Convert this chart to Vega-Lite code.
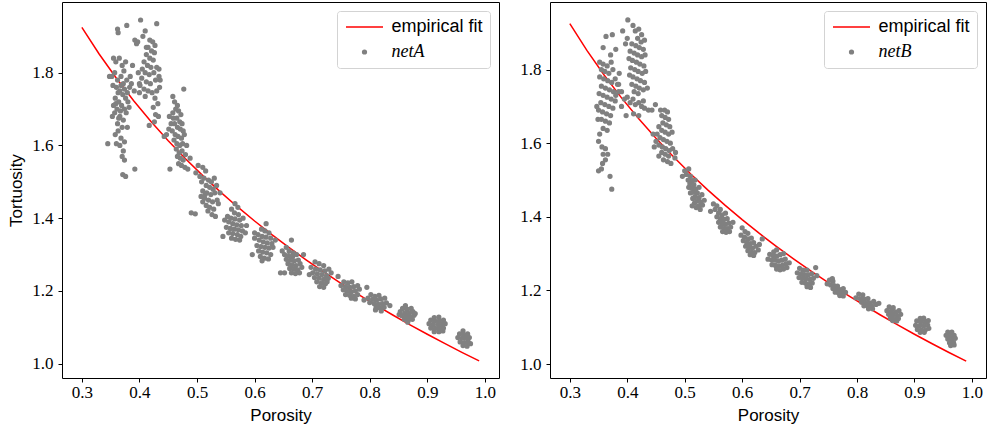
{
  "$schema": "https://vega.github.io/schema/vega-lite/v6.json",
  "padding": {"left": 7, "top": 1, "right": 0, "bottom": 0},
  "background": "white",
  "spacing": 19,
  "config": {
    "font": "Liberation Serif",
    "view": {"stroke": "black", "strokeWidth": 1},
    "axis": {"grid": false, "domain": false, "tickColor": "black", "tickSize": 4, "tickWidth": 1,
      "labelFont": "Liberation Serif", "labelFontSize": 17, "labelColor": "black", "labelPadding": 5,
      "titleFont": "Liberation Sans", "titleFontSize": 17, "titleFontWeight": "normal", "titleColor": "black"},
    "axisX": {"titlePadding": 7, "labelPadding": 2},
    "axisY": {"titlePadding": 6},
    "legend": {"orient": "top-right", "offset": 9, "strokeColor": "#d3d3d3", "fillColor": "rgba(255,255,255,0.8)",
      "cornerRadius": 3, "padding": 7, "rowPadding": 7, "labelFontSize": 18, "labelColor": "black", "titlePadding": 0}
  },
  "datasets": {
    "fit": [
      {"p":0.30,"t":1.9247},{"p":0.33,"t":1.8515},{"p":0.36,"t":1.7847},{"p":0.39,"t":1.7231},{"p":0.42,"t":1.6662},
      {"p":0.45,"t":1.6133},{"p":0.48,"t":1.5637},{"p":0.51,"t":1.5171},{"p":0.54,"t":1.4732},{"p":0.57,"t":1.4317},
      {"p":0.60,"t":1.3923},{"p":0.63,"t":1.3548},{"p":0.66,"t":1.3191},{"p":0.69,"t":1.2850},{"p":0.72,"t":1.2523},
      {"p":0.75,"t":1.2209},{"p":0.78,"t":1.1908},{"p":0.81,"t":1.1618},{"p":0.84,"t":1.1339},{"p":0.87,"t":1.1070},
      {"p":0.90,"t":1.0809},{"p":0.93,"t":1.0557},{"p":0.96,"t":1.0313},{"p":0.99,"t":1.0077}
    ],
    "a": [
      {"p":0.357,"t":1.80},{"p":0.362,"t":1.78},{"p":0.368,"t":1.79},{"p":0.372,"t":1.77},{"p":0.378,"t":1.78},{"p":0.383,"t":1.76},
      {"p":0.36,"t":1.76},{"p":0.366,"t":1.75},{"p":0.371,"t":1.74},{"p":0.376,"t":1.73},{"p":0.358,"t":1.73},{"p":0.364,"t":1.72},
      {"p":0.369,"t":1.71},{"p":0.374,"t":1.70},{"p":0.361,"t":1.70},{"p":0.357,"t":1.69},{"p":0.366,"t":1.68},{"p":0.372,"t":1.67},
      {"p":0.362,"t":1.66},{"p":0.377,"t":1.69},{"p":0.355,"t":1.71},{"p":0.38,"t":1.72},{"p":0.384,"t":1.79},{"p":0.352,"t":1.79},
      {"p":0.348,"t":1.79},{"p":0.386,"t":1.77},{"p":0.359,"t":1.83},{"p":0.365,"t":1.84},{"p":0.37,"t":1.82},{"p":0.376,"t":1.83},
      {"p":0.362,"t":1.92},{"p":0.363,"t":1.91},{"p":0.378,"t":1.93},{"p":0.392,"t":1.89},{"p":0.355,"t":1.84},{"p":0.388,"t":1.82},
      {"p":0.391,"t":1.75},{"p":0.363,"t":1.64},{"p":0.358,"t":1.63},{"p":0.368,"t":1.62},{"p":0.374,"t":1.61},{"p":0.36,"t":1.605},
      {"p":0.345,"t":1.605},{"p":0.372,"t":1.585},{"p":0.37,"t":1.57},{"p":0.374,"t":1.56},{"p":0.371,"t":1.52},{"p":0.376,"t":1.515},
      {"p":0.392,"t":1.535},{"p":0.366,"t":1.60},{"p":0.379,"t":1.65},
      {"p":0.354,"t":1.765},{"p":0.363,"t":1.745},{"p":0.368,"t":1.765},{"p":0.374,"t":1.755},{"p":0.379,"t":1.745},{"p":0.359,"t":1.715},
      {"p":0.367,"t":1.695},{"p":0.364,"t":1.675},{"p":0.37,"t":1.65},{"p":0.353,"t":1.68},{"p":0.382,"t":1.705},{"p":0.373,"t":1.805},
      {"p":0.402,"t":1.945},{"p":0.43,"t":1.935},{"p":0.41,"t":1.915},{"p":0.397,"t":1.885},{"p":0.395,"t":1.88},{"p":0.406,"t":1.90},
      {"p":0.418,"t":1.89},{"p":0.423,"t":1.885},{"p":0.427,"t":1.875},{"p":0.415,"t":1.87},{"p":0.421,"t":1.86},{"p":0.426,"t":1.855},
      {"p":0.412,"t":1.85},{"p":0.418,"t":1.84},{"p":0.424,"t":1.835},{"p":0.408,"t":1.83},{"p":0.414,"t":1.82},{"p":0.42,"t":1.815},
      {"p":0.43,"t":1.815},{"p":0.405,"t":1.81},{"p":0.41,"t":1.80},{"p":0.417,"t":1.795},{"p":0.425,"t":1.80},{"p":0.434,"t":1.81},
      {"p":0.404,"t":1.785},{"p":0.412,"t":1.775},{"p":0.419,"t":1.77},{"p":0.428,"t":1.78},{"p":0.436,"t":1.78},{"p":0.401,"t":1.765},
      {"p":0.408,"t":1.755},{"p":0.415,"t":1.75},{"p":0.422,"t":1.745},{"p":0.43,"t":1.75},{"p":0.435,"t":1.76},{"p":0.40,"t":1.745},
      {"p":0.41,"t":1.735},{"p":0.427,"t":1.73},{"p":0.432,"t":1.715},{"p":0.424,"t":1.705},{"p":0.428,"t":1.685},{"p":0.426,"t":1.665},
      {"p":0.417,"t":1.655},{"p":0.433,"t":1.68},{"p":0.412,"t":1.87},{"p":0.434,"t":1.79},{"p":0.398,"t":1.80},{"p":0.40,"t":1.77},
      {"p":0.443,"t":1.625},{"p":0.447,"t":1.63},{"p":0.451,"t":1.645},{"p":0.455,"t":1.66},{"p":0.459,"t":1.675},{"p":0.452,"t":1.68},
      {"p":0.458,"t":1.69},{"p":0.463,"t":1.70},{"p":0.468,"t":1.695},{"p":0.472,"t":1.685},{"p":0.465,"t":1.675},{"p":0.47,"t":1.665},
      {"p":0.474,"t":1.66},{"p":0.461,"t":1.66},{"p":0.466,"t":1.65},{"p":0.471,"t":1.645},{"p":0.476,"t":1.64},{"p":0.457,"t":1.64},
      {"p":0.462,"t":1.63},{"p":0.467,"t":1.625},{"p":0.473,"t":1.62},{"p":0.478,"t":1.63},{"p":0.46,"t":1.615},{"p":0.465,"t":1.605},
      {"p":0.47,"t":1.60},{"p":0.475,"t":1.605},{"p":0.464,"t":1.59},{"p":0.469,"t":1.58},{"p":0.474,"t":1.585},{"p":0.466,"t":1.57},
      {"p":0.471,"t":1.565},{"p":0.476,"t":1.56},{"p":0.48,"t":1.575},{"p":0.468,"t":1.55},{"p":0.473,"t":1.545},{"p":0.479,"t":1.54},
      {"p":0.484,"t":1.535},{"p":0.488,"t":1.565},{"p":0.477,"t":1.755},{"p":0.458,"t":1.735},{"p":0.466,"t":1.71},{"p":0.453,"t":1.535},
      {"p":0.482,"t":1.60},{"p":0.461,"t":1.72},
      {"p":0.502,"t":1.545},{"p":0.51,"t":1.54},{"p":0.515,"t":1.53},{"p":0.498,"t":1.525},{"p":0.505,"t":1.515},{"p":0.512,"t":1.51},
      {"p":0.52,"t":1.505},{"p":0.525,"t":1.50},{"p":0.53,"t":1.51},{"p":0.508,"t":1.50},{"p":0.516,"t":1.49},{"p":0.522,"t":1.485},
      {"p":0.528,"t":1.48},{"p":0.534,"t":1.49},{"p":0.51,"t":1.475},{"p":0.517,"t":1.47},{"p":0.524,"t":1.465},{"p":0.531,"t":1.47},
      {"p":0.507,"t":1.46},{"p":0.513,"t":1.455},{"p":0.52,"t":1.45},{"p":0.527,"t":1.445},{"p":0.535,"t":1.45},{"p":0.51,"t":1.445},
      {"p":0.516,"t":1.435},{"p":0.522,"t":1.43},{"p":0.529,"t":1.425},{"p":0.519,"t":1.42},{"p":0.526,"t":1.41},{"p":0.532,"t":1.405},
      {"p":0.49,"t":1.415},{"p":0.497,"t":1.412},{"p":0.537,"t":1.44},{"p":0.54,"t":1.47},{"p":0.514,"t":1.465},
      {"p":0.566,"t":1.44},{"p":0.571,"t":1.43},{"p":0.56,"t":1.425},{"p":0.565,"t":1.415},{"p":0.572,"t":1.41},{"p":0.553,"t":1.405},
      {"p":0.559,"t":1.40},{"p":0.566,"t":1.398},{"p":0.574,"t":1.395},{"p":0.58,"t":1.40},{"p":0.548,"t":1.395},{"p":0.555,"t":1.39},
      {"p":0.562,"t":1.385},{"p":0.569,"t":1.382},{"p":0.577,"t":1.38},{"p":0.551,"t":1.375},{"p":0.558,"t":1.372},{"p":0.565,"t":1.37},
      {"p":0.572,"t":1.368},{"p":0.579,"t":1.365},{"p":0.555,"t":1.36},{"p":0.562,"t":1.358},{"p":0.57,"t":1.355},{"p":0.576,"t":1.35},
      {"p":0.56,"t":1.345},{"p":0.567,"t":1.342},{"p":0.574,"t":1.34},{"p":0.584,"t":1.36},{"p":0.545,"t":1.35},{"p":0.586,"t":1.38},
      {"p":0.62,"t":1.385},{"p":0.612,"t":1.37},{"p":0.618,"t":1.365},{"p":0.625,"t":1.36},{"p":0.606,"t":1.355},{"p":0.613,"t":1.35},
      {"p":0.62,"t":1.348},{"p":0.628,"t":1.345},{"p":0.60,"t":1.345},{"p":0.608,"t":1.34},{"p":0.615,"t":1.335},{"p":0.622,"t":1.332},
      {"p":0.63,"t":1.33},{"p":0.604,"t":1.325},{"p":0.611,"t":1.322},{"p":0.618,"t":1.32},{"p":0.625,"t":1.318},{"p":0.632,"t":1.32},
      {"p":0.607,"t":1.31},{"p":0.614,"t":1.307},{"p":0.621,"t":1.305},{"p":0.628,"t":1.30},{"p":0.61,"t":1.295},{"p":0.617,"t":1.29},
      {"p":0.624,"t":1.288},{"p":0.596,"t":1.30},{"p":0.636,"t":1.34},{"p":0.60,"t":1.36},{"p":0.613,"t":1.283},
      {"p":0.655,"t":1.32},{"p":0.648,"t":1.31},{"p":0.66,"t":1.31},{"p":0.667,"t":1.305},{"p":0.652,"t":1.30},{"p":0.659,"t":1.297},
      {"p":0.666,"t":1.295},{"p":0.673,"t":1.30},{"p":0.655,"t":1.287},{"p":0.662,"t":1.285},{"p":0.669,"t":1.283},{"p":0.676,"t":1.285},
      {"p":0.658,"t":1.275},{"p":0.665,"t":1.272},{"p":0.672,"t":1.27},{"p":0.679,"t":1.275},{"p":0.661,"t":1.262},{"p":0.668,"t":1.26},
      {"p":0.675,"t":1.258},{"p":0.682,"t":1.265},{"p":0.664,"t":1.25},{"p":0.671,"t":1.248},{"p":0.678,"t":1.25},{"p":0.645,"t":1.25},
      {"p":0.652,"t":1.25},{"p":0.664,"t":1.34},{"p":0.685,"t":1.30},
      {"p":0.705,"t":1.28},{"p":0.712,"t":1.275},{"p":0.72,"t":1.27},{"p":0.698,"t":1.265},{"p":0.706,"t":1.26},{"p":0.714,"t":1.258},
      {"p":0.722,"t":1.255},{"p":0.729,"t":1.26},{"p":0.701,"t":1.25},{"p":0.709,"t":1.247},{"p":0.717,"t":1.245},{"p":0.725,"t":1.242},
      {"p":0.704,"t":1.237},{"p":0.712,"t":1.235},{"p":0.72,"t":1.232},{"p":0.728,"t":1.235},{"p":0.708,"t":1.225},{"p":0.716,"t":1.222},
      {"p":0.723,"t":1.22},{"p":0.713,"t":1.212},{"p":0.72,"t":1.21},{"p":0.733,"t":1.25},{"p":0.695,"t":1.245},{"p":0.726,"t":1.225},
      {"p":0.745,"t":1.24},{"p":0.755,"t":1.225},{"p":0.762,"t":1.222},{"p":0.769,"t":1.225},{"p":0.75,"t":1.215},{"p":0.758,"t":1.212},
      {"p":0.765,"t":1.21},{"p":0.772,"t":1.212},{"p":0.779,"t":1.215},{"p":0.754,"t":1.203},{"p":0.761,"t":1.20},{"p":0.768,"t":1.198},
      {"p":0.775,"t":1.20},{"p":0.782,"t":1.205},{"p":0.758,"t":1.19},{"p":0.765,"t":1.188},{"p":0.772,"t":1.185},{"p":0.779,"t":1.19},
      {"p":0.768,"t":1.18},{"p":0.775,"t":1.178},
      {"p":0.795,"t":1.21},{"p":0.802,"t":1.19},{"p":0.809,"t":1.185},{"p":0.816,"t":1.188},{"p":0.797,"t":1.18},{"p":0.805,"t":1.177},
      {"p":0.812,"t":1.175},{"p":0.819,"t":1.178},{"p":0.826,"t":1.18},{"p":0.80,"t":1.168},{"p":0.808,"t":1.165},{"p":0.815,"t":1.163},
      {"p":0.822,"t":1.165},{"p":0.829,"t":1.167},{"p":0.811,"t":1.155},{"p":0.818,"t":1.153},{"p":0.825,"t":1.155},{"p":0.835,"t":1.16},
      {"p":0.81,"t":1.148},{"p":0.82,"t":1.145},{"p":0.79,"t":1.175},
      {"p":0.862,"t":1.16},{"p":0.857,"t":1.152},{"p":0.865,"t":1.15},{"p":0.872,"t":1.152},{"p":0.853,"t":1.143},{"p":0.861,"t":1.14},
      {"p":0.868,"t":1.14},{"p":0.875,"t":1.143},{"p":0.856,"t":1.132},{"p":0.863,"t":1.13},{"p":0.87,"t":1.13},{"p":0.877,"t":1.133},
      {"p":0.86,"t":1.122},{"p":0.867,"t":1.12},{"p":0.874,"t":1.122},{"p":0.866,"t":1.114},{"p":0.851,"t":1.135},{"p":0.879,"t":1.138},
      {"p":0.912,"t":1.127},{"p":0.92,"t":1.128},{"p":0.906,"t":1.12},{"p":0.913,"t":1.118},{"p":0.921,"t":1.118},{"p":0.928,"t":1.12},
      {"p":0.903,"t":1.11},{"p":0.91,"t":1.108},{"p":0.918,"t":1.108},{"p":0.925,"t":1.108},{"p":0.931,"t":1.11},{"p":0.906,"t":1.098},
      {"p":0.913,"t":1.097},{"p":0.921,"t":1.097},{"p":0.928,"t":1.098},{"p":0.912,"t":1.088},{"p":0.92,"t":1.088},{"p":0.927,"t":1.09},
      {"p":0.962,"t":1.09},{"p":0.956,"t":1.082},{"p":0.963,"t":1.08},{"p":0.97,"t":1.082},{"p":0.953,"t":1.072},{"p":0.96,"t":1.07},
      {"p":0.967,"t":1.07},{"p":0.973,"t":1.072},{"p":0.957,"t":1.06},{"p":0.964,"t":1.058},{"p":0.971,"t":1.06},{"p":0.962,"t":1.05},
      {"p":0.969,"t":1.048},{"p":0.975,"t":1.055}
    ],
    "b": [
      {"p":0.352,"t":1.82},{"p":0.358,"t":1.815},{"p":0.365,"t":1.81},{"p":0.372,"t":1.82},{"p":0.355,"t":1.80},{"p":0.361,"t":1.795},
      {"p":0.368,"t":1.79},{"p":0.375,"t":1.80},{"p":0.352,"t":1.78},{"p":0.359,"t":1.775},{"p":0.366,"t":1.77},{"p":0.373,"t":1.765},
      {"p":0.379,"t":1.775},{"p":0.355,"t":1.755},{"p":0.362,"t":1.75},{"p":0.369,"t":1.745},{"p":0.376,"t":1.74},{"p":0.351,"t":1.735},
      {"p":0.358,"t":1.73},{"p":0.365,"t":1.725},{"p":0.372,"t":1.72},{"p":0.379,"t":1.715},{"p":0.354,"t":1.71},{"p":0.361,"t":1.705},
      {"p":0.368,"t":1.70},{"p":0.375,"t":1.695},{"p":0.35,"t":1.69},{"p":0.357,"t":1.685},{"p":0.364,"t":1.68},{"p":0.371,"t":1.675},
      {"p":0.355,"t":1.665},{"p":0.362,"t":1.66},{"p":0.369,"t":1.655},{"p":0.358,"t":1.64},{"p":0.365,"t":1.635},{"p":0.352,"t":1.625},
      {"p":0.35,"t":1.605},{"p":0.356,"t":1.59},{"p":0.362,"t":1.585},{"p":0.366,"t":1.57},{"p":0.358,"t":1.57},{"p":0.362,"t":1.555},
      {"p":0.357,"t":1.545},{"p":0.355,"t":1.53},{"p":0.35,"t":1.525},{"p":0.37,"t":1.51},{"p":0.373,"t":1.475},{"p":0.358,"t":1.86},
      {"p":0.363,"t":1.89},{"p":0.374,"t":1.895},{"p":0.38,"t":1.855},{"p":0.371,"t":1.84},{"p":0.386,"t":1.79},{"p":0.383,"t":1.76},
      {"p":0.385,"t":1.74},{"p":0.347,"t":1.70},{"p":0.349,"t":1.665},
      {"p":0.401,"t":1.935},{"p":0.41,"t":1.92},{"p":0.414,"t":1.905},{"p":0.392,"t":1.905},{"p":0.42,"t":1.91},{"p":0.425,"t":1.895},
      {"p":0.418,"t":1.885},{"p":0.424,"t":1.875},{"p":0.43,"t":1.88},{"p":0.408,"t":1.87},{"p":0.415,"t":1.865},{"p":0.421,"t":1.86},
      {"p":0.428,"t":1.855},{"p":0.405,"t":1.85},{"p":0.412,"t":1.845},{"p":0.418,"t":1.84},{"p":0.425,"t":1.835},{"p":0.431,"t":1.84},
      {"p":0.403,"t":1.83},{"p":0.409,"t":1.825},{"p":0.416,"t":1.82},{"p":0.422,"t":1.815},{"p":0.429,"t":1.81},{"p":0.406,"t":1.805},
      {"p":0.413,"t":1.80},{"p":0.419,"t":1.795},{"p":0.426,"t":1.79},{"p":0.432,"t":1.795},{"p":0.404,"t":1.785},{"p":0.41,"t":1.78},
      {"p":0.417,"t":1.775},{"p":0.423,"t":1.77},{"p":0.43,"t":1.765},{"p":0.408,"t":1.76},{"p":0.415,"t":1.755},{"p":0.421,"t":1.75},
      {"p":0.428,"t":1.745},{"p":0.435,"t":1.75},{"p":0.412,"t":1.74},{"p":0.419,"t":1.735},{"p":0.397,"t":1.87},{"p":0.40,"t":1.885},
      {"p":0.39,"t":1.74},{"p":0.395,"t":1.72},{"p":0.40,"t":1.725},{"p":0.405,"t":1.71},{"p":0.41,"t":1.72},{"p":0.414,"t":1.705},
      {"p":0.42,"t":1.71},{"p":0.425,"t":1.70},{"p":0.43,"t":1.695},{"p":0.437,"t":1.69},{"p":0.443,"t":1.69},{"p":0.449,"t":1.705},
      {"p":0.39,"t":1.70},{"p":0.398,"t":1.675},{"p":0.411,"t":1.68},{"p":0.42,"t":1.675},{"p":0.428,"t":1.715},{"p":0.385,"t":1.76},
      {"p":0.38,"t":1.73},
      {"p":0.458,"t":1.69},{"p":0.465,"t":1.69},{"p":0.47,"t":1.685},{"p":0.46,"t":1.675},{"p":0.466,"t":1.67},{"p":0.472,"t":1.665},
      {"p":0.462,"t":1.655},{"p":0.468,"t":1.65},{"p":0.474,"t":1.645},{"p":0.455,"t":1.645},{"p":0.46,"t":1.635},{"p":0.466,"t":1.63},
      {"p":0.472,"t":1.625},{"p":0.478,"t":1.63},{"p":0.452,"t":1.625},{"p":0.457,"t":1.615},{"p":0.463,"t":1.61},{"p":0.469,"t":1.605},
      {"p":0.475,"t":1.60},{"p":0.45,"t":1.605},{"p":0.455,"t":1.595},{"p":0.461,"t":1.59},{"p":0.467,"t":1.585},{"p":0.473,"t":1.58},
      {"p":0.479,"t":1.585},{"p":0.46,"t":1.575},{"p":0.466,"t":1.57},{"p":0.472,"t":1.565},{"p":0.463,"t":1.555},{"p":0.47,"t":1.55},
      {"p":0.476,"t":1.545},{"p":0.483,"t":1.56},{"p":0.447,"t":1.59},{"p":0.484,"t":1.575},{"p":0.445,"t":1.625},{"p":0.455,"t":1.565},
      {"p":0.50,"t":1.525},{"p":0.507,"t":1.53},{"p":0.503,"t":1.515},{"p":0.51,"t":1.51},{"p":0.506,"t":1.50},{"p":0.513,"t":1.498},
      {"p":0.509,"t":1.49},{"p":0.516,"t":1.487},{"p":0.512,"t":1.478},{"p":0.519,"t":1.475},{"p":0.507,"t":1.48},{"p":0.515,"t":1.467},
      {"p":0.522,"t":1.465},{"p":0.51,"t":1.465},{"p":0.518,"t":1.455},{"p":0.525,"t":1.452},{"p":0.514,"t":1.45},{"p":0.521,"t":1.443},
      {"p":0.528,"t":1.44},{"p":0.517,"t":1.437},{"p":0.524,"t":1.43},{"p":0.531,"t":1.432},{"p":0.52,"t":1.425},{"p":0.527,"t":1.42},
      {"p":0.534,"t":1.445},{"p":0.513,"t":1.43},{"p":0.53,"t":1.46},{"p":0.496,"t":1.51},{"p":0.518,"t":1.50},{"p":0.525,"t":1.48},
      {"p":0.55,"t":1.435},{"p":0.556,"t":1.43},{"p":0.562,"t":1.42},{"p":0.553,"t":1.42},{"p":0.559,"t":1.41},{"p":0.565,"t":1.405},
      {"p":0.571,"t":1.41},{"p":0.556,"t":1.40},{"p":0.562,"t":1.395},{"p":0.568,"t":1.393},{"p":0.574,"t":1.395},{"p":0.559,"t":1.385},
      {"p":0.565,"t":1.382},{"p":0.571,"t":1.38},{"p":0.577,"t":1.383},{"p":0.562,"t":1.372},{"p":0.568,"t":1.37},{"p":0.574,"t":1.368},
      {"p":0.58,"t":1.372},{"p":0.566,"t":1.36},{"p":0.572,"t":1.358},{"p":0.578,"t":1.36},{"p":0.545,"t":1.415},{"p":0.584,"t":1.385},
      {"p":0.60,"t":1.37},{"p":0.605,"t":1.36},{"p":0.61,"t":1.355},{"p":0.598,"t":1.35},{"p":0.604,"t":1.345},{"p":0.61,"t":1.34},
      {"p":0.616,"t":1.342},{"p":0.602,"t":1.335},{"p":0.608,"t":1.33},{"p":0.614,"t":1.327},{"p":0.62,"t":1.33},{"p":0.606,"t":1.32},
      {"p":0.612,"t":1.317},{"p":0.618,"t":1.315},{"p":0.624,"t":1.32},{"p":0.61,"t":1.308},{"p":0.616,"t":1.305},{"p":0.622,"t":1.303},
      {"p":0.614,"t":1.297},{"p":0.62,"t":1.295},{"p":0.628,"t":1.31},{"p":0.635,"t":1.34},{"p":0.63,"t":1.325},
      {"p":0.655,"t":1.305},{"p":0.66,"t":1.31},{"p":0.648,"t":1.298},{"p":0.654,"t":1.295},{"p":0.66,"t":1.293},{"p":0.666,"t":1.297},
      {"p":0.672,"t":1.30},{"p":0.645,"t":1.285},{"p":0.651,"t":1.283},{"p":0.657,"t":1.282},{"p":0.663,"t":1.28},{"p":0.669,"t":1.282},
      {"p":0.675,"t":1.285},{"p":0.652,"t":1.27},{"p":0.658,"t":1.268},{"p":0.664,"t":1.267},{"p":0.67,"t":1.268},{"p":0.676,"t":1.272},
      {"p":0.682,"t":1.275},{"p":0.66,"t":1.258},{"p":0.666,"t":1.256},{"p":0.672,"t":1.258},{"p":0.678,"t":1.262},
      {"p":0.70,"t":1.26},{"p":0.706,"t":1.255},{"p":0.713,"t":1.255},{"p":0.696,"t":1.248},{"p":0.702,"t":1.245},{"p":0.708,"t":1.243},
      {"p":0.715,"t":1.242},{"p":0.721,"t":1.245},{"p":0.728,"t":1.262},{"p":0.699,"t":1.235},{"p":0.705,"t":1.233},{"p":0.711,"t":1.232},
      {"p":0.718,"t":1.23},{"p":0.724,"t":1.233},{"p":0.73,"t":1.24},{"p":0.704,"t":1.222},{"p":0.71,"t":1.22},{"p":0.716,"t":1.218},
      {"p":0.722,"t":1.22},{"p":0.713,"t":1.21},{"p":0.719,"t":1.208},
      {"p":0.752,"t":1.228},{"p":0.758,"t":1.225},{"p":0.748,"t":1.218},{"p":0.754,"t":1.215},{"p":0.76,"t":1.213},{"p":0.766,"t":1.212},
      {"p":0.758,"t":1.205},{"p":0.764,"t":1.203},{"p":0.77,"t":1.202},{"p":0.776,"t":1.205},{"p":0.762,"t":1.195},{"p":0.768,"t":1.193},
      {"p":0.774,"t":1.192},{"p":0.78,"t":1.195},{"p":0.77,"t":1.186},{"p":0.776,"t":1.185},{"p":0.757,"t":1.232},
      {"p":0.803,"t":1.19},{"p":0.81,"t":1.188},{"p":0.798,"t":1.18},{"p":0.805,"t":1.178},{"p":0.812,"t":1.177},{"p":0.819,"t":1.178},
      {"p":0.808,"t":1.168},{"p":0.815,"t":1.167},{"p":0.822,"t":1.166},{"p":0.829,"t":1.17},{"p":0.812,"t":1.158},{"p":0.819,"t":1.157},
      {"p":0.826,"t":1.157},{"p":0.833,"t":1.162},{"p":0.82,"t":1.15},{"p":0.827,"t":1.15},{"p":0.838,"t":1.165},
      {"p":0.856,"t":1.155},{"p":0.863,"t":1.153},{"p":0.852,"t":1.145},{"p":0.859,"t":1.143},{"p":0.866,"t":1.142},{"p":0.873,"t":1.145},
      {"p":0.855,"t":1.135},{"p":0.862,"t":1.133},{"p":0.869,"t":1.132},{"p":0.876,"t":1.135},{"p":0.858,"t":1.125},{"p":0.865,"t":1.123},
      {"p":0.872,"t":1.124},{"p":0.862,"t":1.118},{"p":0.869,"t":1.117},
      {"p":0.91,"t":1.124},{"p":0.916,"t":1.125},{"p":0.904,"t":1.117},{"p":0.911,"t":1.115},{"p":0.918,"t":1.115},{"p":0.924,"t":1.118},
      {"p":0.902,"t":1.105},{"p":0.909,"t":1.104},{"p":0.916,"t":1.104},{"p":0.923,"t":1.106},{"p":0.905,"t":1.094},{"p":0.912,"t":1.092},
      {"p":0.919,"t":1.093},{"p":0.925,"t":1.097},{"p":0.91,"t":1.086},{"p":0.917,"t":1.086},
      {"p":0.958,"t":1.087},{"p":0.965,"t":1.087},{"p":0.955,"t":1.078},{"p":0.962,"t":1.077},{"p":0.969,"t":1.078},{"p":0.958,"t":1.068},
      {"p":0.965,"t":1.067},{"p":0.971,"t":1.07},{"p":0.961,"t":1.058},{"p":0.968,"t":1.058},{"p":0.963,"t":1.05},{"p":0.969,"t":1.052}
    ]
  },
  "hconcat": [
    {
      "width": 437, "height": 376,
      "layer": [
        {
          "data": {"name": "fit"},
          "mark": {"type": "line", "color": "red", "strokeWidth": 1.5, "clip": true},
          "encoding": {
            "x": {"field": "p", "type": "quantitative", "scale": {"domain": [0.2655, 1.0245], "nice": false, "zero": false},
              "axis": {"values": [0.3,0.4,0.5,0.6,0.7,0.8,0.9,1.0], "format": ".1f", "labelFont": "Liberation Serif"}, "title": "Porosity"},
            "y": {"field": "t", "type": "quantitative", "scale": {"domain": [0.9607, 1.9945], "nice": false, "zero": false},
              "axis": {"values": [1.0,1.2,1.4,1.6,1.8], "format": ".1f", "labelFont": "Liberation Serif"}, "title": "Tortuosity"}
          }
        },
        {
          "data": {"name": "a"},
          "mark": {"type": "point", "filled": true, "size": 14, "strokeWidth": 1.5, "opacity": 1},
          "encoding": {
            "x": {"field": "p", "type": "quantitative"},
            "y": {"field": "t", "type": "quantitative"},
            "fill": {"datum": "netA", "scale": {"domain": ["empirical fit", "netA"], "range": ["red", "gray"]},
              "legend": {"title": null, "symbolSize": 14, "symbolOffset": 11.5, "labelOffset": 18,
                "labelFont": {"expr": "datum.label == 'empirical fit' ? 'Liberation Sans' : 'Liberation Serif'"},
                "labelFontStyle": {"expr": "datum.label == 'empirical fit' ? 'normal' : 'italic'"}}},
            "stroke": {"datum": "netA", "scale": {"domain": ["empirical fit", "netA"], "range": ["red", "gray"]},
              "legend": {"title": null, "symbolSize": 14, "symbolOffset": 11.5, "labelOffset": 18,
                "labelFont": {"expr": "datum.label == 'empirical fit' ? 'Liberation Sans' : 'Liberation Serif'"},
                "labelFontStyle": {"expr": "datum.label == 'empirical fit' ? 'normal' : 'italic'"}}},
            "shape": {"datum": "netA", "scale": {"domain": ["empirical fit", "netA"], "range": ["M-9.9,0H9.9", "circle"]},
              "legend": {"title": null, "symbolSize": 14, "symbolOffset": 11.5, "labelOffset": 18,
                "labelFont": {"expr": "datum.label == 'empirical fit' ? 'Liberation Sans' : 'Liberation Serif'"},
                "labelFontStyle": {"expr": "datum.label == 'empirical fit' ? 'normal' : 'italic'"}}}
          }
        }
      ]
    },
    {
      "width": 436, "height": 376,
      "layer": [
        {
          "data": {"name": "fit"},
          "mark": {"type": "line", "color": "red", "strokeWidth": 1.5, "clip": true},
          "encoding": {
            "x": {"field": "p", "type": "quantitative", "scale": {"domain": [0.2655, 1.0245], "nice": false, "zero": false},
              "axis": {"values": [0.3,0.4,0.5,0.6,0.7,0.8,0.9,1.0], "format": ".1f", "labelFont": "Liberation Serif"}, "title": "Porosity"},
            "y": {"field": "t", "type": "quantitative", "scale": {"domain": [0.962, 1.9837], "nice": false, "zero": false},
              "axis": {"values": [1.0,1.2,1.4,1.6,1.8], "format": ".1f", "labelFont": "Liberation Serif"}, "title": null}
          }
        },
        {
          "data": {"name": "b"},
          "mark": {"type": "point", "filled": true, "size": 14, "strokeWidth": 1.5, "opacity": 1},
          "encoding": {
            "x": {"field": "p", "type": "quantitative"},
            "y": {"field": "t", "type": "quantitative"},
            "fill": {"datum": "netB", "scale": {"domain": ["empirical fit", "netB"], "range": ["red", "gray"]},
              "legend": {"title": null, "symbolSize": 14, "symbolOffset": 11.5, "labelOffset": 18,
                "labelFont": {"expr": "datum.label == 'empirical fit' ? 'Liberation Sans' : 'Liberation Serif'"},
                "labelFontStyle": {"expr": "datum.label == 'empirical fit' ? 'normal' : 'italic'"}}},
            "stroke": {"datum": "netB", "scale": {"domain": ["empirical fit", "netB"], "range": ["red", "gray"]},
              "legend": {"title": null, "symbolSize": 14, "symbolOffset": 11.5, "labelOffset": 18,
                "labelFont": {"expr": "datum.label == 'empirical fit' ? 'Liberation Sans' : 'Liberation Serif'"},
                "labelFontStyle": {"expr": "datum.label == 'empirical fit' ? 'normal' : 'italic'"}}},
            "shape": {"datum": "netB", "scale": {"domain": ["empirical fit", "netB"], "range": ["M-9.9,0H9.9", "circle"]},
              "legend": {"title": null, "symbolSize": 14, "symbolOffset": 11.5, "labelOffset": 18,
                "labelFont": {"expr": "datum.label == 'empirical fit' ? 'Liberation Sans' : 'Liberation Serif'"},
                "labelFontStyle": {"expr": "datum.label == 'empirical fit' ? 'normal' : 'italic'"}}}
          }
        }
      ]
    }
  ],
  "resolve": {
    "scale": {"fill": "independent", "stroke": "independent", "shape": "independent"},
    "legend": {"fill": "independent", "stroke": "independent", "shape": "independent"}
  }
}
